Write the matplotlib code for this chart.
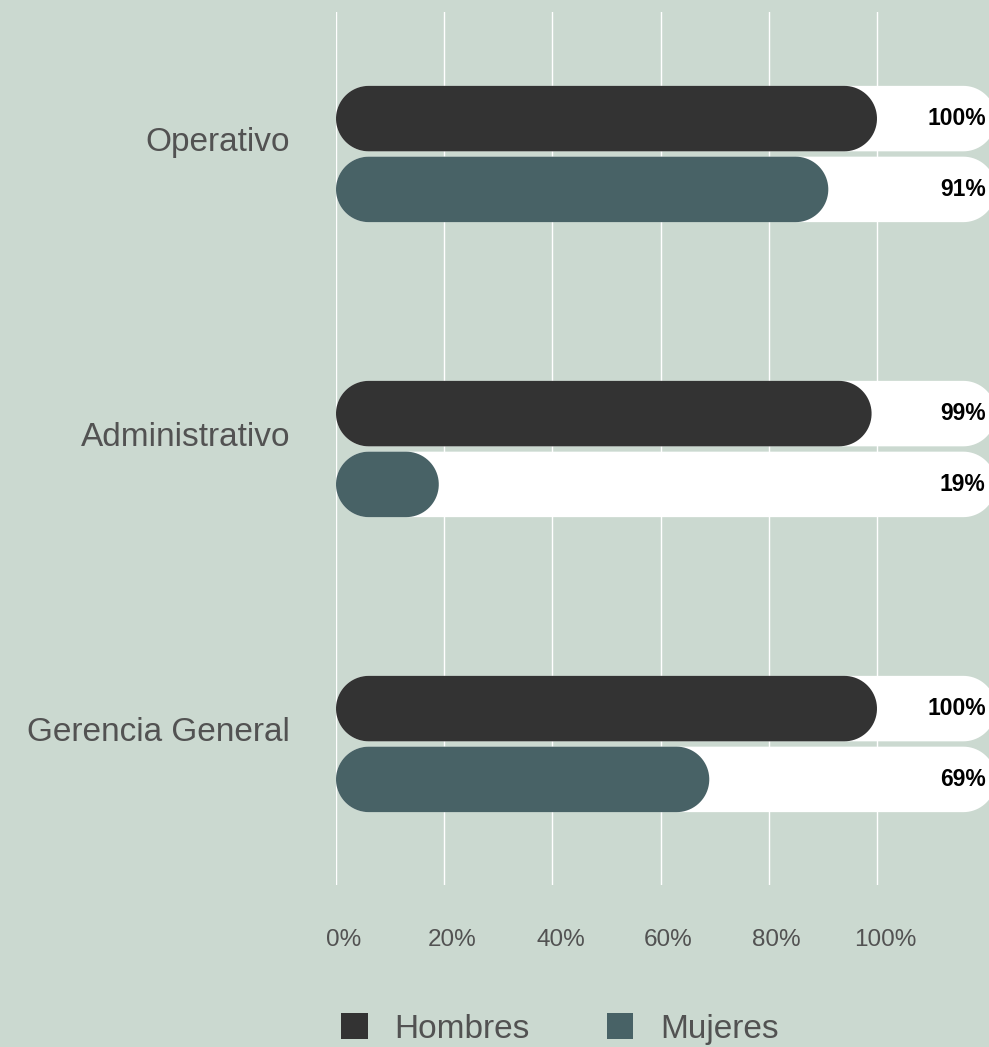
import numpy as np
import matplotlib.pyplot as plt
from matplotlib.patches import Polygon, Patch
from matplotlib.transforms import ScaledTranslation

plt.rcParams['font.family'] = ['Liberation Sans', 'DejaVu Sans']

# data
categories = ["Operativo", "Administrativo", "Gerencia General"]
series = ["Hombres", "Mujeres"]
hombres = [100, 99, 100]
mujeres = [91, 19, 69]
ticks = [0, 20, 40, 60, 80, 100]
tick_labels = ["0%", "20%", "40%", "60%", "80%", "100%"]

BG = "#cbd9d0"
COLORS = ["#333333", "#486266"]
TEXT = "#525252"
TRACK_END = 122
BAR_H = 0.222
GAP = 0.018

fig = plt.figure(figsize=(9.89, 10.47), dpi=100, facecolor=BG)
W, H = 989, 1047
ax = fig.add_axes([336 / W, (H - 885) / H, 1 - 336 / W, (885 - 12) / H])
ax.set_facecolor(BG)
ax.set_xlim(0, (W - 336) / 5.41)
ax.set_ylim((885 - 154) / 295, (12 - 154) / 295)

# radius of the round ends in x units (half bar height in pixels)
bbox = ax.get_position()
px_x = bbox.width * W / (ax.get_xlim()[1] - ax.get_xlim()[0])
px_y = bbox.height * H / abs(ax.get_ylim()[0] - ax.get_ylim()[1])
rx = BAR_H / 2 * px_y / px_x
ry = BAR_H / 2


def pill(x0, x1, yc, color, z):
    t = np.linspace(-np.pi / 2, np.pi / 2, 40)
    right = np.c_[x1 - rx + rx * np.cos(t), yc + ry * np.sin(t)]
    left = np.c_[x0 + rx - rx * np.cos(t), yc - ry * np.sin(t)]
    ax.add_patch(Polygon(np.r_[right, left], closed=True, fc=color, ec="none", zorder=z))


for i, cat in enumerate(categories):
    for j, vals in enumerate([hombres, mujeres]):
        yc = i + (j - 0.5) * (BAR_H + GAP)
        pill(0, TRACK_END, yc, "white", 2)
        pill(0, vals[i], yc, COLORS[j], 3)
        ax.text(120.1, yc, f"{vals[i]}%", ha="right", va="center",
                fontsize=16.5, fontweight="bold", color="black", zorder=4)
    ax.text(-8.5, i - 0.04, cat, ha="right", va="center",
            fontsize=24, color=TEXT, clip_on=False)

ax.set_xticks(ticks)
ax.set_xticklabels(tick_labels, fontsize=17.5, color=TEXT)
ax.set_yticks([])
ax.tick_params(axis="x", length=0, pad=32)
offset = ScaledTranslation(8 / 100, 0, fig.dpi_scale_trans)
for lab in ax.get_xticklabels():
    lab.set_transform(lab.get_transform() + offset)
ax.grid(axis="x", color="white", lw=1.0)
ax.set_axisbelow(True)
for s in ax.spines.values():
    s.set_visible(False)

handles = [Patch(fc=c, ec="none") for c in COLORS]
fig.legend(handles, series, loc="center", bbox_to_anchor=(560 / W, 1 - 1029 / H),
           ncol=2, frameon=False, fontsize=24, labelcolor=TEXT,
           handlelength=0.8, handleheight=0.8, handletextpad=0.8,
           columnspacing=2.3)

fig.savefig("out.png", dpi=100, facecolor=BG)
